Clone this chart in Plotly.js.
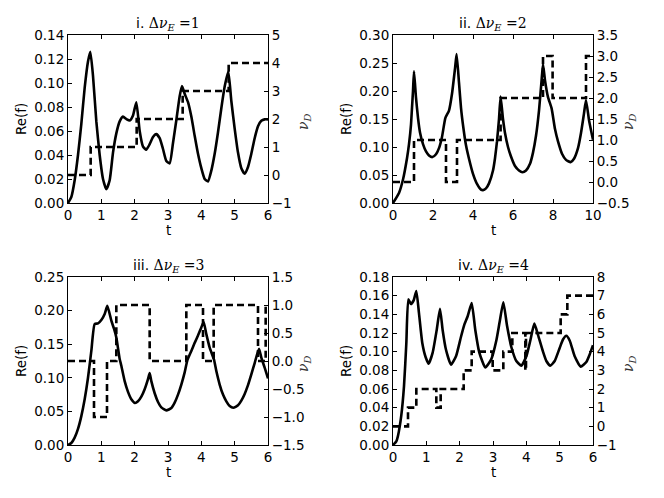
<!DOCTYPE html>
<html>
<head>
<meta charset="utf-8">
<script src="https://cdn.plot.ly/plotly-3.0.1.min.js"></script>
<style>html,body{margin:0;padding:0;background:#fff;}#chart{width:664px;height:498px;}</style>
</head>
<body>
<div id="chart"></div>
<script>
// ---- Panel i (Δν_E = 1) ----
const t1 = [0,0.1,0.2,0.3,0.4,0.5,0.6,0.67,0.75,0.85,0.95,1.05,1.15,1.25,1.35,1.45,1.55,1.65,1.75,1.85,1.95,2.05,2.15,2.25,2.35,2.45,2.55,2.65,2.75,2.85,2.95,3.05,3.15,3.25,3.35,3.42,3.5,3.6,3.7,3.8,3.9,4.0,4.1,4.2,4.3,4.4,4.5,4.6,4.7,4.81,4.9,5.0,5.1,5.2,5.3,5.4,5.5,5.6,5.7,5.8,5.9,6.0];
const re1 = [0,0.005,0.019,0.04,0.066,0.096,0.118,0.126,0.106,0.068,0.04,0.02,0.0115,0.019,0.042,0.058,0.068,0.072,0.070,0.0687,0.073,0.084,0.060,0.047,0.0445,0.049,0.055,0.0574,0.054,0.045,0.035,0.033,0.05,0.069,0.089,0.0975,0.091,0.084,0.072,0.056,0.041,0.029,0.020,0.018,0.027,0.041,0.059,0.079,0.097,0.1095,0.085,0.062,0.042,0.029,0.0245,0.030,0.041,0.054,0.064,0.0685,0.0697,0.0697];
const tn1 = [0,0.68,2.06,3.44,4.82,6];
const nu1 = [0,1,2,3,4,4];

// ---- Panel ii (Δν_E = 2) ----
const t2 = [0,0.3,0.5,0.7,0.8,0.9,0.95,1.0,1.05,1.15,1.25,1.35,1.5,1.65,1.8,1.97,2.15,2.3,2.45,2.62,2.8,2.95,3.1,3.18,3.3,3.4,3.52,3.65,3.8,4.0,4.2,4.4,4.5,4.65,4.8,5.0,5.1,5.2,5.3,5.38,5.5,5.6,5.75,5.9,6.1,6.3,6.47,6.65,6.85,7.0,7.15,7.3,7.42,7.5,7.6,7.75,7.93,8.1,8.25,8.45,8.65,8.88,9.05,9.25,9.4,9.55,9.65,9.8,9.9,10];
const re2 = [0,0.018,0.042,0.08,0.105,0.14,0.17,0.2,0.235,0.188,0.152,0.126,0.105,0.092,0.085,0.082,0.087,0.098,0.118,0.152,0.165,0.195,0.24,0.266,0.215,0.17,0.134,0.103,0.079,0.052,0.034,0.024,0.023,0.026,0.035,0.058,0.08,0.11,0.15,0.19,0.15,0.125,0.1,0.083,0.066,0.058,0.055,0.058,0.07,0.09,0.12,0.165,0.215,0.248,0.219,0.189,0.169,0.132,0.11,0.088,0.077,0.073,0.079,0.098,0.125,0.16,0.184,0.148,0.13,0.113];
const tn2 = [0,1.05,2.65,3.2,5.38,7.5,7.98,9.65,10];
const nu2 = [0,1,0,1,2,3,2,3,3];

// ---- Panel iii (Δν_E = 3) ----
const t3 = [0,0.1,0.2,0.3,0.4,0.5,0.6,0.7,0.8,0.9,1.0,1.1,1.18,1.3,1.38,1.45,1.55,1.6,1.7,1.8,1.9,2.01,2.1,2.2,2.3,2.4,2.45,2.5,2.6,2.7,2.8,2.95,3.1,3.2,3.3,3.4,3.5,3.58,3.7,3.8,3.9,4.0,4.07,4.15,4.25,4.38,4.45,4.55,4.65,4.75,4.85,4.96,5.1,5.2,5.3,5.4,5.5,5.6,5.73,5.8,5.9,6.0];
const re3 = [0,0.003,0.011,0.024,0.043,0.068,0.1,0.14,0.18,0.181,0.186,0.195,0.207,0.185,0.173,0.16,0.128,0.118,0.095,0.079,0.068,0.0625,0.065,0.072,0.083,0.098,0.107,0.095,0.077,0.064,0.056,0.0515,0.055,0.063,0.075,0.09,0.108,0.126,0.14,0.152,0.163,0.175,0.183,0.165,0.145,0.127,0.11,0.09,0.075,0.065,0.058,0.0555,0.059,0.066,0.076,0.089,0.105,0.122,0.143,0.13,0.115,0.099];
const tn3 = [0,0.78,1.17,1.45,2.45,3.55,4.05,4.37,5.7,5.93,6];
const nu3 = [0,-1,0,1,0,1,0,1,0,1,1];

// ---- Panel iv (Δν_E = 4) ----
const t4 = [0,0.1,0.15,0.25,0.33,0.4,0.46,0.54,0.62,0.7,0.78,0.88,0.98,1.07,1.19,1.31,1.41,1.49,1.59,1.74,1.89,2.04,2.14,2.24,2.36,2.47,2.59,2.77,2.95,3.1,3.2,3.31,3.42,3.55,3.7,3.85,4.0,4.12,4.24,4.35,4.5,4.6,4.72,4.85,5.0,5.1,5.2,5.3,5.45,5.63,5.8,5.9,6.0];
const re4 = [0,0.004,0.01,0.032,0.063,0.109,0.156,0.151,0.155,0.165,0.141,0.109,0.094,0.087,0.099,0.123,0.146,0.123,0.102,0.086,0.095,0.116,0.129,0.138,0.152,0.123,0.099,0.083,0.092,0.112,0.132,0.153,0.128,0.105,0.09,0.085,0.095,0.112,0.13,0.118,0.1,0.09,0.085,0.09,0.104,0.113,0.117,0.112,0.095,0.084,0.089,0.097,0.107];
const tn4 = [0,0.45,0.70,1.3,1.43,2.12,2.36,2.99,3.31,3.58,3.97,3.99,5.03,5.23,6];
const nu4 = [0,1,2,1,2,3,4,3,4,5,3,5,6,7,7];

const titles = ['i. ', 'ii. ', 'iii. ', 'iv. '];
const dnuE = ['1', '2', '3', '4'];

const panels = [
  {t:t1, re:re1, tn:tn1, nu:nu1, xr:[0,6], xd:1, yr:[0,0.14], yd:0.02, y2r:[-1,5], y2d:1, y2f:'d'},
  {t:t2, re:re2, tn:tn2, nu:nu2, xr:[0,10], xd:2, yr:[0,0.30], yd:0.05, y2r:[-0.5,3.5], y2d:0.5, y2f:'.1f'},
  {t:t3, re:re3, tn:tn3, nu:nu3, xr:[0,6], xd:1, yr:[0,0.25], yd:0.05, y2r:[-1.5,1.5], y2d:0.5, y2f:'.1f'},
  {t:t4, re:re4, tn:tn4, nu:nu4, xr:[0,6], xd:1, yr:[0,0.18], yd:0.02, y2r:[-1,8], y2d:1, y2f:'d'}
];

// panel geometry in pixels (left, right, top, bottom)
const W = 664, H = 498;
const boxes = [
  [68, 268, 35, 203],
  [393, 593, 35, 203],
  [68, 268, 277, 445],
  [393, 593, 277, 445]
];

const tickFont = {family: 'DejaVu Sans, sans-serif', size: 13.5, color: '#000'};
const layout = {
  width: W, height: H,
  margin: {l:0, r:0, t:0, b:0},
  paper_bgcolor: '#fff', plot_bgcolor: '#fff',
  showlegend: false,
  annotations: []
};
const data = [];

panels.forEach((p, i) => {
  const n = i + 1;
  const xa = 'x' + (n === 1 ? '' : n);
  const yl = 'y' + (2*n - 1 === 1 ? '' : (2*n - 1));
  const yr = 'y' + (2*n);
  const b = boxes[i];
  const xdom = [b[0]/W, b[1]/W];
  const ydom = [1 - b[3]/H, 1 - b[2]/H];

  data.push({x: p.t, y: p.re, xaxis: xa, yaxis: yl, type: 'scatter', mode: 'lines',
    line: {color: '#000', width: 2.6, shape: 'spline', smoothing: 0.5}, hoverinfo: 'skip'});
  data.push({x: p.tn, y: p.nu, xaxis: xa, yaxis: yr, type: 'scatter', mode: 'lines',
    line: {color: '#000', width: 2.6, shape: 'hv', dash: '7px,4px'}, hoverinfo: 'skip'});

  const xkey = 'xaxis' + (n === 1 ? '' : n);
  const ylkey = 'yaxis' + (2*n - 1 === 1 ? '' : (2*n - 1));
  const yrkey = 'yaxis' + (2*n);

  layout[xkey] = {domain: xdom, anchor: yl, range: p.xr, dtick: p.xd, tick0: 0,
    showgrid: false, zeroline: false, showline: true, linecolor: '#000', linewidth: 1,
    mirror: 'ticks', ticks: 'inside', ticklen: 4, tickcolor: '#000', tickwidth: 1,
    tickfont: tickFont, fixedrange: true};
  layout[ylkey] = {domain: ydom, anchor: xa, range: p.yr, dtick: p.yd, tick0: 0,
    tickformat: '.2f', showgrid: false, zeroline: false, showline: true, linecolor: '#000',
    linewidth: 1, ticks: 'inside', ticklen: 4, tickcolor: '#000', tickwidth: 1,
    tickfont: tickFont, fixedrange: true};
  layout[yrkey] = {overlaying: yl, anchor: xa, side: 'right', range: p.y2r, dtick: p.y2d,
    tick0: 0, tickformat: p.y2f, showgrid: false, zeroline: false, showline: true,
    linecolor: '#000', linewidth: 1, ticks: 'inside', ticklen: 4, tickcolor: '#000',
    tickwidth: 1, tickfont: tickFont, fixedrange: true};

  const cx = (b[0] + b[1]) / 2;
  const cy = (b[2] + b[3]) / 2;
  // subplot title
  layout.annotations.push({xref: 'paper', yref: 'paper', x: cx/W, y: 1 - (b[2] - 11)/H,
    xanchor: 'center', yanchor: 'middle', showarrow: false,
    text: titles[i] + '<span style="font-family:DejaVu Serif, serif">Δ<i>ν</i><sub><i>E</i></sub> =' + dnuE[i] + '</span>',
    font: {family: 'DejaVu Sans, sans-serif', size: 14, color: '#000'}});
  // x label
  layout.annotations.push({xref: 'paper', yref: 'paper', x: cx/W, y: 1 - (b[3] + 27)/H,
    xanchor: 'center', yanchor: 'middle', showarrow: false, text: 't',
    font: {family: 'DejaVu Sans, sans-serif', size: 13.5, color: '#000'}});
  // left y label
  layout.annotations.push({xref: 'paper', yref: 'paper', x: (b[0] - 47)/W, y: 1 - cy/H,
    xanchor: 'center', yanchor: 'middle', showarrow: false, text: 'Re(f)', textangle: -90,
    font: {family: 'DejaVu Sans, sans-serif', size: 13.5, color: '#000'}});
  // right y label
  layout.annotations.push({xref: 'paper', yref: 'paper', x: (b[1] + 36)/W, y: 1 - (cy + 3)/H,
    xanchor: 'center', yanchor: 'middle', showarrow: false, textangle: -90,
    text: '<i>ν</i><sub><i>D</i></sub>',
    font: {family: 'DejaVu Serif, serif', size: 14, color: '#333'}});
});

Plotly.newPlot('chart', data, layout, {staticPlot: true, displayModeBar: false});
</script>
</body>
</html>
